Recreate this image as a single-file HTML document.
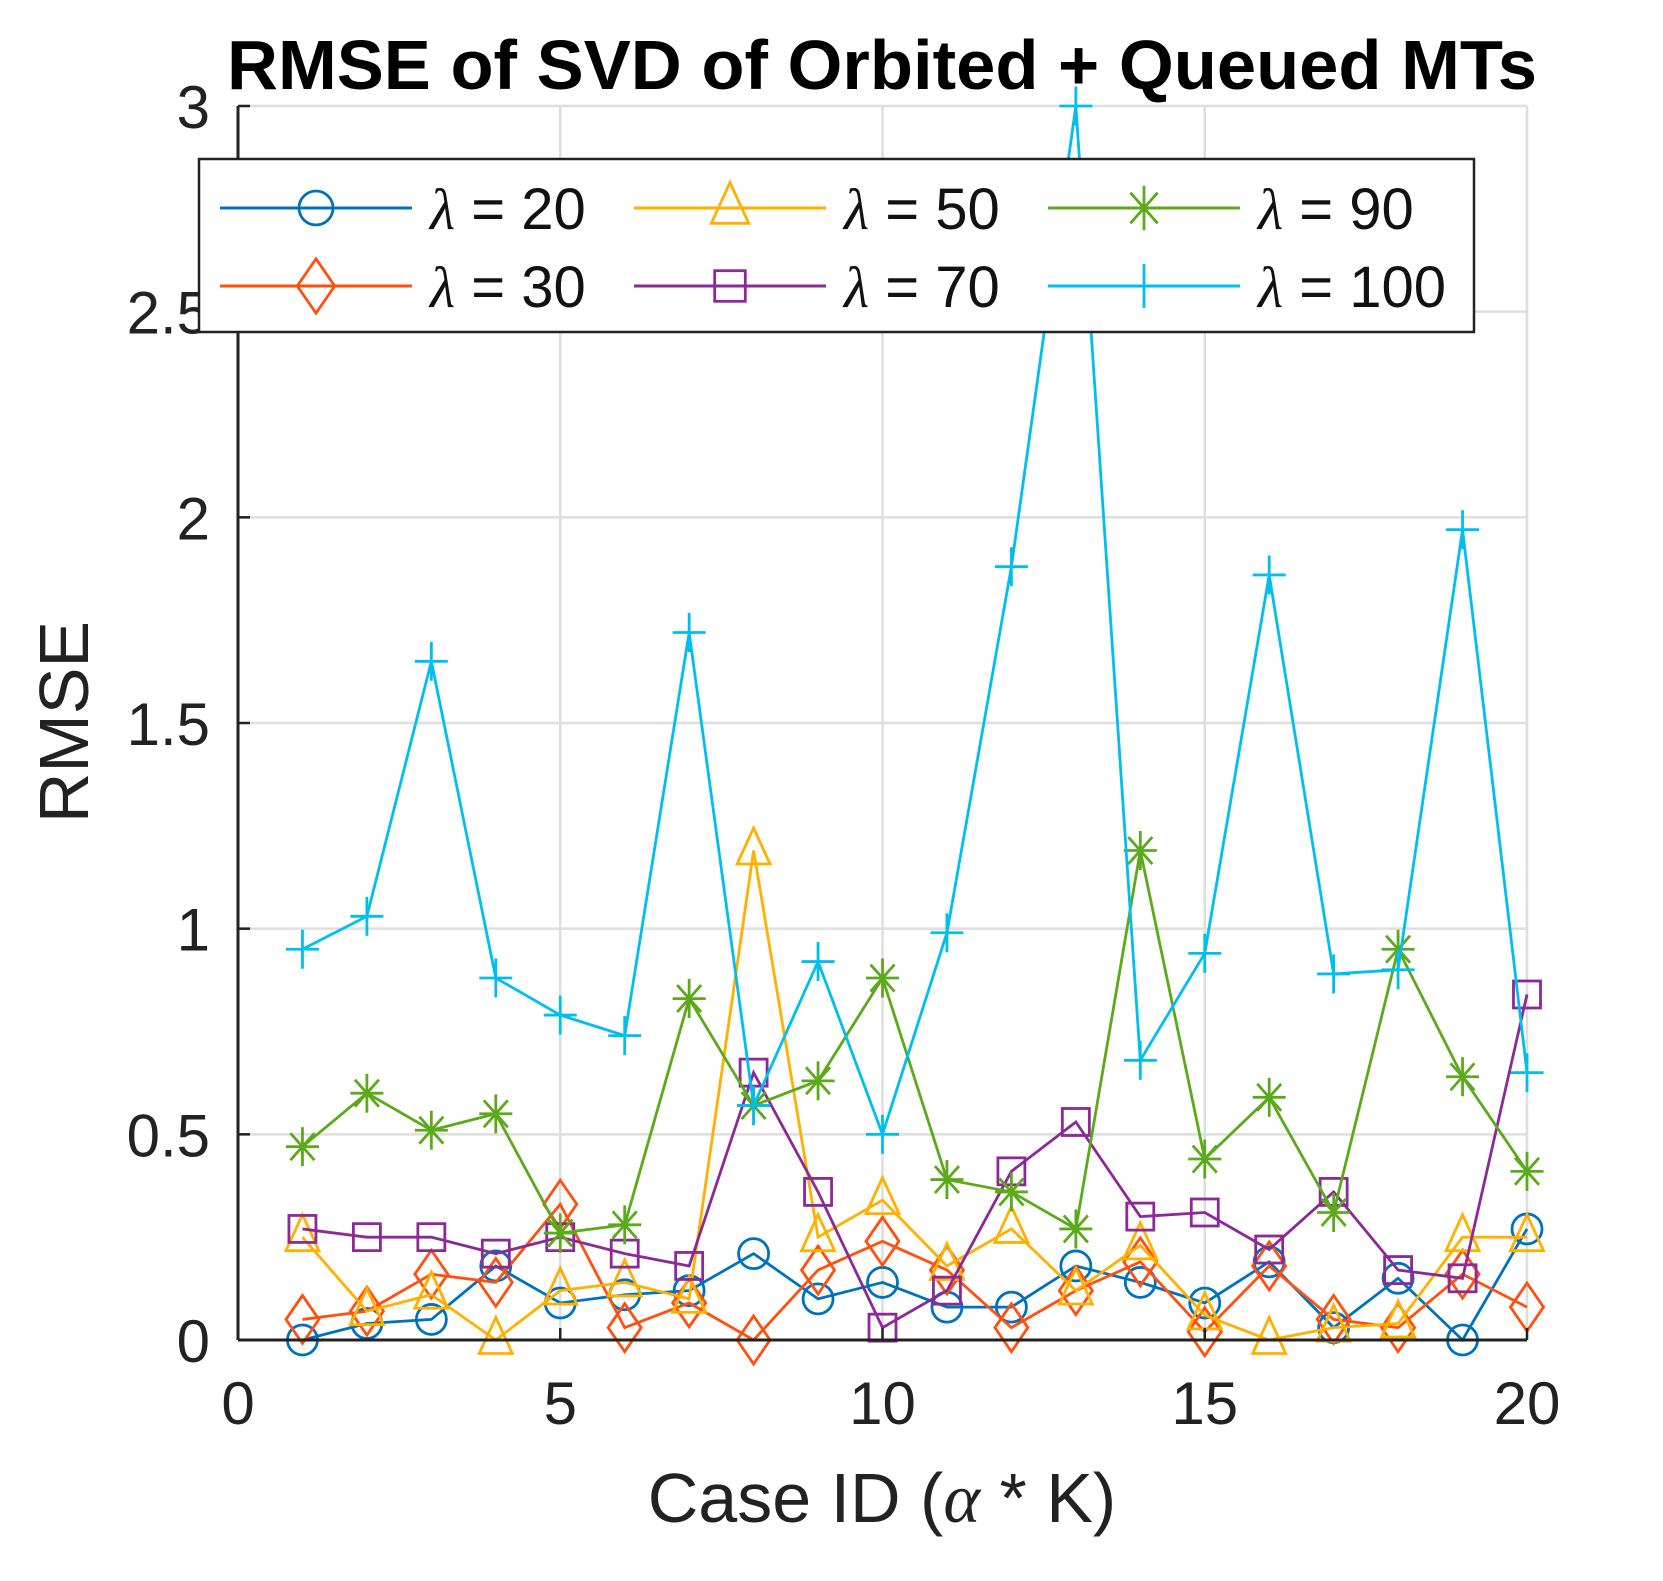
<!DOCTYPE html>
<html><head><meta charset="utf-8"><style>
html,body{margin:0;padding:0;background:#fff;}
svg text{font-family:"Liberation Sans",Arial,sans-serif;}
</style></head><body>
<svg id="chart" width="1663" height="1576" viewBox="0 0 1663 1576" xmlns="http://www.w3.org/2000/svg">
<rect width="1663" height="1576" fill="#fff"/>
<g id="grid"></g>
<g id="series"></g>
<g id="axes"></g>
<text x="882" y="89" text-anchor="middle" font-size="70" font-weight="bold" textLength="1310" lengthAdjust="spacingAndGlyphs">RMSE of SVD of Orbited + Queued MTs</text>
<text x="882" y="1522" text-anchor="middle" font-size="70" fill="#222">Case ID (<tspan font-family="Liberation Serif" font-style="italic">α</tspan> * K)</text>
<text transform="translate(88,722) rotate(-90)" text-anchor="middle" font-size="70" fill="#222">RMSE</text>
<g id="legend"></g>
</svg>
<script>
const caseIds = [1,2,3,4,5,6,7,8,9,10,11,12,13,14,15,16,17,18,19,20];
const lambda20 = [0,0.04,0.05,0.18,0.09,0.11,0.12,0.21,0.10,0.14,0.08,0.08,0.18,0.14,0.09,0.19,0.03,0.15,0,0.27];
const lambda30 = [0.05,0.07,0.16,0.14,0.33,0.03,0.09,0,0.17,0.24,0.17,0.03,0.12,0.19,0.02,0.18,0.05,0.03,0.16,0.08];
const lambda50 = [0.25,0.07,0.11,0,0.12,0.14,0.10,1.19,0.25,0.34,0.18,0.27,0.12,0.23,0.06,0,0.03,0.04,0.25,0.25];
const lambda70 = [0.27,0.25,0.25,0.21,0.25,0.21,0.18,0.65,0.36,0.03,0.12,0.41,0.53,0.30,0.31,0.22,0.36,0.17,0.15,0.84];
const lambda90 = [0.47,0.60,0.51,0.55,0.26,0.28,0.83,0.57,0.63,0.88,0.39,0.36,0.27,1.19,0.44,0.59,0.31,0.95,0.64,0.41];
const lambda100 = [0.95,1.03,1.65,0.88,0.79,0.74,1.72,0.57,0.92,0.50,0.99,1.88,3.0,0.68,0.94,1.86,0.89,0.90,1.97,0.65];
const xTicks = [0,5,10,15,20];
const yTicks = [0,0.5,1,1.5,2,2.5,3];
const yTickLabels = ["0","0.5","1","1.5","2","2.5","3"];
const seriesValues = ["20","30","50","70","90","100"];

const NS="http://www.w3.org/2000/svg";
const X0=238, X1=1527, Y0=1340, Y1=106;
function xs(v){return X0+(v-0)/(20-0)*(X1-X0);}
function ys(v){return Y0-(v-0)/(3-0)*(Y0-Y1);}
function mk(tag,attrs,parent){const e=document.createElementNS(NS,tag);for(const k in attrs)e.setAttribute(k,attrs[k]);parent.appendChild(e);return e;}
const grid=document.getElementById('grid'), axes=document.getElementById('axes'), ser=document.getElementById('series'), leg=document.getElementById('legend');

xTicks.forEach(t=>{
  const g=mk('line',{x1:xs(t),x2:xs(t),y1:Y0,y2:Y1,stroke:'#dedede','stroke-width':2.5},grid);
  
  
  const tk=mk('line',{x1:xs(t),x2:xs(t),y1:Y0,y2:Y0-12,stroke:'#222','stroke-width':2.5},axes);
  
  
  const tl=mk('text',{x:xs(t),y:Y0+84,'text-anchor':'middle','font-size':60,fill:'#222'},axes);
  tl.textContent=String(t);
  
  
});
yTicks.forEach((t,i)=>{
  const g=mk('line',{x1:X0,x2:X1,y1:ys(t),y2:ys(t),stroke:'#dedede','stroke-width':2.5},grid);
  
  
  const tk=mk('line',{x1:X0,x2:X0+12,y1:ys(t),y2:ys(t),stroke:'#222','stroke-width':2.5},axes);
  
  
  const tl=mk('text',{x:X0-28,y:ys(t)+22,'text-anchor':'end','font-size':60,fill:'#222'},axes);
  tl.textContent=yTickLabels[i];
  
  
});
const ya=mk('line',{x1:X0,x2:X0,y1:Y0,y2:Y1,stroke:'#222','stroke-width':3},axes);


const xa=mk('line',{x1:X0,x2:X1,y1:Y0,y2:Y0,stroke:'#222','stroke-width':3},axes);



const colors=['#0072BD','#FF5010','#FFB000','#8B2A96','#5AAA1A','#00BFEF'];
const markers=['circle','diamond','triangle','square','asterisk','plus'];
const data=[lambda20,lambda30,lambda50,lambda70,lambda90,lambda100];

function marker(type,cx,cy,color,parent,s){
  const g=mk('g',{fill:'none',stroke:color,'stroke-width':2.8},parent);
  if(type==='circle') mk('circle',{cx:cx,cy:cy,r:s},g);
  else if(type==='diamond') mk('polygon',{points:`${cx},${cy-s*1.6} ${cx+s*1.1},${cy} ${cx},${cy+s*1.6} ${cx-s*1.1},${cy}`},g);
  else if(type==='triangle') mk('polygon',{points:`${cx},${cy-s*1.5} ${cx+s*1.1},${cy+s*0.9} ${cx-s*1.1},${cy+s*0.9}`},g);
  else if(type==='square') mk('rect',{x:cx-s*0.9,y:cy-s*0.9,width:s*1.8,height:s*1.8},g);
  else if(type==='asterisk'){
    mk('line',{x1:cx-s*1.1,x2:cx+s*1.1,y1:cy,y2:cy},g);
    mk('line',{x1:cx,x2:cx,y1:cy-s*1.3,y2:cy+s*1.3},g);
    mk('line',{x1:cx-s*0.8,x2:cx+s*0.8,y1:cy-s*0.9,y2:cy+s*0.9},g);
    mk('line',{x1:cx-s*0.8,x2:cx+s*0.8,y1:cy+s*0.9,y2:cy-s*0.9},g);
  } else {
    mk('line',{x1:cx-s*1.1,x2:cx+s*1.1,y1:cy,y2:cy},g);
    mk('line',{x1:cx,x2:cx,y1:cy-s*1.3,y2:cy+s*1.3},g);
  }
  return g;
}

data.forEach((arr,si)=>{
  const g=mk('g',{},ser);
  
  
  const pts=arr.map((v,i)=>xs(caseIds[i])+','+ys(v)).join(' ');
  const pl=mk('polyline',{points:pts,fill:'none',stroke:colors[si],'stroke-width':2.8},g);
  
  
  arr.forEach((v,i)=>{
    const m=marker(markers[si],xs(caseIds[i]),ys(v),colors[si],g,15);
    
    
  });
});

const box=mk('rect',{x:199,y:159,width:1275,height:173,fill:'#fff',stroke:'#222','stroke-width':2.5},leg);


const order=[0,2,4,1,3,5];
order.forEach((si,k)=>{
  const col=k%3,row=Math.floor(k/3);
  const lx=220+col*414, ly=208+row*78;
  const g=mk('g',{},leg);
  
  
  mk('line',{x1:lx,x2:lx+192,y1:ly,y2:ly,stroke:colors[si],'stroke-width':3},g);
  marker(markers[si],lx+96,ly,colors[si],g,17);
  const t=mk('text',{x:lx+210,y:ly+21,'font-size':58,fill:'#111'},g);
  const l=mk('tspan',{'font-family':'Liberation Serif','font-style':'italic'},t);
  l.textContent='λ';
  const r=mk('tspan',{},t);
  r.textContent=' = '+seriesValues[si];
});
</script>
</body></html>
